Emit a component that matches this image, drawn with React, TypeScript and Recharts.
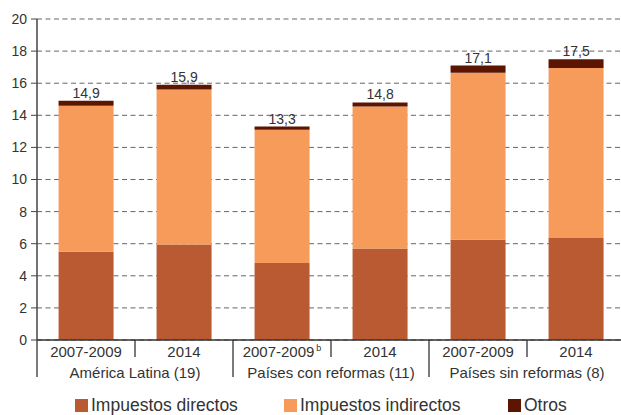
import { BarChart, Bar, XAxis, YAxis, CartesianGrid, LabelList } from 'recharts';

const periods = ['2007-2009', '2014', '2007-2009', '2014', '2007-2009', '2014'];
const groups = ['América Latina (19)', 'Países con reformas (11)', 'Países sin reformas (8)'];
const directos = [5.5, 5.95, 4.8, 5.7, 6.25, 6.35];
const indirectos = [9.1, 9.65, 8.3, 8.85, 10.4, 10.6];
const otros = [0.3, 0.3, 0.2, 0.25, 0.45, 0.55];
const totals = [14.9, 15.9, 13.3, 14.8, 17.1, 17.5];
const yTicks = [0, 2, 4, 6, 8, 10, 12, 14, 16, 18, 20];

const seriesNames = ['Impuestos directos', 'Impuestos indirectos', 'Otros'];
const colors = ['#B95A32', '#F79B5A', '#5C1500'];

const data = periods.map((p, i) => ({
  key: `c${i}`,
  directos: directos[i],
  indirectos: indirectos[i],
  otros: otros[i],
  total: totals[i],
}));

const FONT = '"Liberation Sans", Arial, sans-serif';
const AXIS_Y = 340;
const BAND = 98;

const CategoryTick = (props: any) => {
  const { x, index } = props;
  const left = x - BAND / 2;
  const even = index % 2 === 0;
  return (
    <g>
      <line x1={left} x2={left} y1={AXIS_Y} y2={even ? 377 : 357} stroke="#333" strokeWidth={1.3} />
      <text x={x} y={357} textAnchor="middle" fontSize={15} fill="#333" fontFamily={FONT}>
        {periods[index]}
        {index === 2 && (
          <tspan fontSize={9} dx={2} dy={-6}>b</tspan>
        )}
      </text>
      {even && (
        <text x={x + BAND / 2} y={378} textAnchor="middle" fontSize={15} fill="#333" fontFamily={FONT}>
          {groups[index / 2]}
        </text>
      )}
    </g>
  );
};

const TotalLabel = (props: any) => {
  const { x, y, width, value } = props;
  return (
    <text x={x + width / 2} y={y - 3} textAnchor="middle" fontSize={14} fill="#333" fontFamily={FONT}>
      {String(value).replace('.', ',')}
    </text>
  );
};

const legendX = [75, 284, 508];

export default function App() {
  return (
    <div style={{ position: 'absolute', left: 0, top: 0, width: 621, height: 415, overflow: 'hidden', background: '#fff' }}>
      <BarChart
        width={625}
        height={415}
        data={data}
        margin={{ top: 19, right: 0, left: 0, bottom: 35 }}
        barCategoryGap="22%"
      >
        <CartesianGrid vertical={false} stroke="#666" strokeDasharray="5 3.5" />
        <XAxis
          dataKey="key"
          height={40}
          interval={0}
          tickLine={false}
          axisLine={{ stroke: '#333', strokeWidth: 1.3 }}
          tick={<CategoryTick />}
        />
        <YAxis
          width={37}
          domain={[0, 20]}
          ticks={yTicks}
          interval={0}
          tickSize={6}
          tickMargin={4}
          axisLine={{ stroke: '#444', strokeWidth: 1.5 }}
          tickLine={{ stroke: '#444' }}
          tick={{ fill: '#333', fontSize: 14, fontFamily: FONT }}
        />
        <Bar dataKey="directos" stackId="a" fill={colors[0]} isAnimationActive={false} />
        <Bar dataKey="indirectos" stackId="a" fill={colors[1]} isAnimationActive={false} />
        <Bar dataKey="otros" stackId="a" fill={colors[2]} isAnimationActive={false}>
          <LabelList dataKey="total" content={<TotalLabel />} />
        </Bar>
      </BarChart>
      {seriesNames.map((name, i) => (
        <div
          key={name}
          style={{
            position: 'absolute',
            left: legendX[i],
            top: 397,
            height: 17,
            display: 'flex',
            alignItems: 'flex-start',
            fontFamily: FONT,
            fontSize: 17.5,
            lineHeight: '17px',
            color: '#333',
            whiteSpace: 'nowrap',
          }}
        >
          <span style={{ display: 'inline-block', width: 13, height: 13, background: colors[i], marginTop: 2, marginRight: 3 }} />
          <span>{name}</span>
        </div>
      ))}
    </div>
  );
}
